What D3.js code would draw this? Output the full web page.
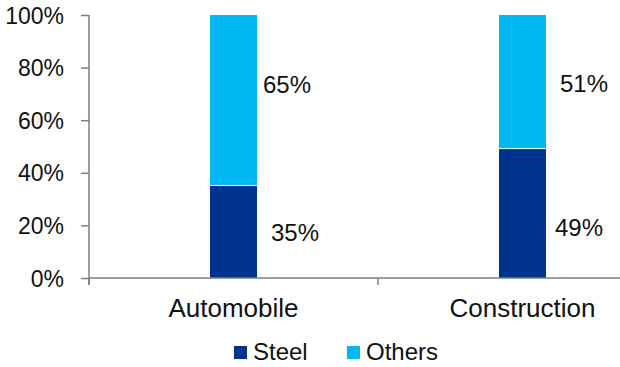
<!DOCTYPE html>
<html><head><meta charset="utf-8">
<script src="https://cdn.jsdelivr.net/npm/d3@7"></script>
<style>
html,body{margin:0;padding:0;background:#fff;}
svg{display:block;}
text{font-family:"Liberation Sans",Arial,sans-serif;fill:#111;}
</style></head>
<body>
<svg id="chart" width="620" height="367"></svg>
<script>
// ---- data ----
const categories = ["Automobile", "Construction"];
const seriesNames = ["Steel", "Others"];
const steel = [0.35, 0.49];
const others = [0.65, 0.51];
const yTicks = [0, 0.2, 0.4, 0.6, 0.8, 1.0];
const valueLabels = {
  Steel: ["35%", "49%"],
  Others: ["65%", "51%"]
};

// ---- layout (not data) ----
const colors = {Steel: "#00338D", Others: "#00B9F2"};
const labelLayout = {
  // value-space y anchor, pixel x offset from bar right edge
  Steel: [{y: 0.173, dx: 14}, {y: 0.19, dx: 9}],
  Others: [{y: 0.736, dx: 6}, {y: 0.74, dx: 14}]
};

const svg = d3.select("#chart");
const mLeft = 89, mTop = 15, mBottom = 278, mRight = 667;
const x = d3.scaleBand().domain(categories).range([mLeft, mRight]).padding(0);
const y = d3.scaleLinear().domain([0, 1]).range([mBottom, mTop]);
const barW = 47;
const axisColor = "#7f7f7f";

const stacked = d3.stack().keys(seriesNames)(
  categories.map((c, i) => ({cat: c, Steel: steel[i], Others: others[i]}))
);

// bars
const g = svg.append("g");
stacked.forEach(layer => {
  g.selectAll(null).data(layer).enter().append("rect")
    .attr("x", d => x(d.data.cat) + x.bandwidth() / 2 - barW / 2)
    .attr("width", barW)
    .attr("y", d => y(d[1]))
    .attr("height", d => y(d[0]) - y(d[1]) - (layer.key === "Others" ? 1 : 0))
    .attr("fill", colors[layer.key]);
});

// y axis
const yAxis = svg.append("g").attr("transform", `translate(${mLeft},0)`)
  .call(d3.axisLeft(y).tickValues(yTicks).tickFormat(d3.format(".0%")).tickSize(8).tickPadding(17));
yAxis.select(".domain").attr("stroke", axisColor).attr("stroke-width", 1.5)
  .attr("d", `M0,${mTop}V${mBottom + 7}`);
yAxis.selectAll(".tick line").attr("stroke", axisColor).attr("stroke-width", 1.5);
yAxis.selectAll(".tick text").attr("font-size", 23).attr("fill", "#111")
  .attr("font-family", "Liberation Sans, Arial, sans-serif").attr("dy", "0.35em");

// x axis
const xAxis = svg.append("g").attr("transform", `translate(0,${mBottom})`)
  .call(d3.axisBottom(x).tickSize(0).tickPadding(21));
xAxis.select(".domain").attr("stroke", axisColor).attr("stroke-width", 1.5)
  .attr("d", `M${mLeft},0H${mRight}`);
xAxis.selectAll(".tick text").attr("font-size", 26).attr("fill", "#111")
  .attr("font-family", "Liberation Sans, Arial, sans-serif");
// category boundary ticks
const bounds = categories.map(c => x(c)).concat([x(categories[categories.length - 1]) + x.bandwidth()]);
xAxis.selectAll(".bound").data(bounds).enter().append("line")
  .attr("x1", d => d).attr("x2", d => d).attr("y1", 0).attr("y2", 7)
  .attr("stroke", axisColor).attr("stroke-width", 1.5);

// value labels
seriesNames.forEach(s => {
  svg.selectAll(null).data(categories).enter().append("text")
    .attr("x", (c, i) => x(c) + x.bandwidth() / 2 + barW / 2 + labelLayout[s][i].dx)
    .attr("y", (c, i) => y(labelLayout[s][i].y))
    .attr("dy", "0.35em")
    .attr("font-size", 24)
    .text((c, i) => valueLabels[s][i]);
});

// legend
const legend = svg.append("g");
const legX = [234, 347];
seriesNames.forEach((s, i) => {
  legend.append("rect").attr("x", legX[i]).attr("y", 346).attr("width", 13).attr("height", 13)
    .attr("fill", colors[s]);
  legend.append("text").attr("x", legX[i] + 19).attr("y", 360).attr("font-size", 24).text(s);
});
</script>
</body></html>
